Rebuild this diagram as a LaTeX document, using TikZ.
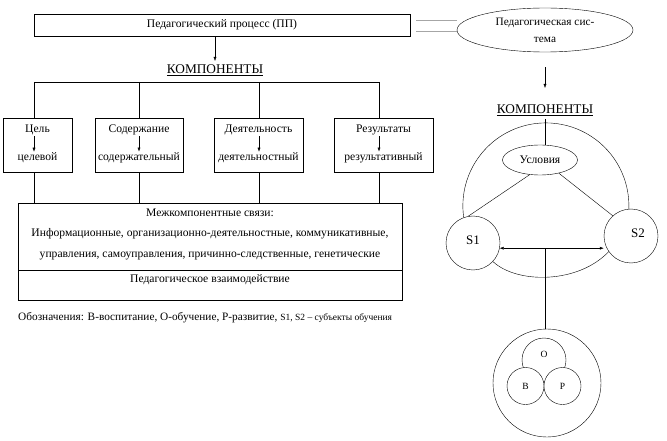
\documentclass[tikz,border=0pt]{standalone}
\usepackage{fontspec}
\setmainfont{Liberation Serif}
\usetikzlibrary{shapes.geometric,arrows.meta}
\begin{document}
\begin{tikzpicture}[x=1pt,y=-1pt,font=\fontsize{11.6}{13}\selectfont,
  box/.style={draw, rectangle, inner sep=0pt},
  ring/.style={draw, circle, inner sep=0pt, fill=white},
  arr/.style={-{Latex[length=4pt,width=3pt]}},
  kmp/.style={font=\fontsize{13.3}{15}\selectfont}]
\useasboundingbox (0,0) rectangle (667,441);
% left part: process
\node[box, minimum width=376pt, minimum height=22pt] (pp) at (222,25) {Педагогический процесс (ПП)};
\node[kmp] (komp) at (215,70) {\underline{КОМПОНЕНТЫ}};
\draw[arr] (pp.south -| komp) -- (komp.north);
\coordinate (bus) at (34,82);
\draw (bus) -- ++(345,0);
\node[box, minimum width=384pt, minimum height=67pt] (mk) at (210,236.5) {};
\node[box, minimum width=384pt, minimum height=30pt, anchor=north] (vz) at (mk.south) {};
\foreach \n/\lx/\cx/\w/\up/\dn in {1/34/37.5/69/Цель/целевой,
    2/139/139/88/Содержание/содержательный,
    3/259/258.5/89/Деятельность/деятельностный,
    4/379/383.5/99/Результаты/результативный}{
  \node[box, minimum width=\w pt, minimum height=54pt] (c\n) at (\cx,145) {};
  \node[inner sep=1pt] (c\n t) at (\cx,130) {\up};
  \node[inner sep=1pt] (c\n b) at (\cx,158) {\dn};
  \coordinate (l\n) at (\lx,82);
  \draw (l\n) -- (l\n |- c\n.north);
  \draw[arr] (l\n |- c\n t.south) -- (l\n |- c\n b.north);
  \draw (l\n |- c\n.south) -- (l\n |- mk.north);
}
\node[align=center, font=\fontsize{11.6}{20.5}\selectfont] (mkt) at (210,234)
  {Межкомпонентные связи:\\Информационные, организационно-деятельностные, коммуникативные,\\управления, самоуправления, причинно-следственные, генетические};
\node (vzt) at (210,280) {Педагогическое взаимодействие};
\node[anchor=west, inner sep=0pt, font=\fontsize{11.3}{13}\selectfont] (leg) at (18,318) {Обозначения: В-воспитание, О-обучение, Р-развитие, {\fontsize{9.5}{10}\selectfont S1, S2 -- субъекты обучения}};
% right part: system
\node[draw, ellipse, minimum width=176pt, minimum height=44pt, inner sep=0pt, align=center,
  font=\fontsize{11.3}{17}\selectfont] (ps) at (545,30) {Педагогическая сис-\\тема};
\coordinate (d1) at ([xshift=6pt,yshift=5pt]pp.east);
\coordinate (d2) at ([xshift=6pt,yshift=-6pt]pp.east);
\draw[gray!70, line width=.8pt] (d1) -- (d1 -| ps.west) (d2) -- (d2 -| ps.west);
\node[kmp] (komp2) at (545,110) {\underline{КОМПОНЕНТЫ}};
\draw[arr] ([yshift=-15pt]ps.south) -- ([yshift=13pt]komp2.north);
\node[draw, ellipse, minimum width=75pt, minimum height=30pt, inner sep=0pt] (usl) at (540,160) {Условия};
\draw (komp2.south) -- (komp2.south |- usl.north);
\node[ring, minimum size=54pt, font=\fontsize{13}{14}\selectfont] (S1) at (473,243) {\raisebox{6pt}{S1}};
\node[ring, minimum size=54pt, font=\fontsize{13}{14}\selectfont] (S2) at (631,236) {\raisebox{6pt}{\hspace{14pt}S2}};
\draw (S1.110) arc[start angle=188, end angle=-2, radius=83pt];
\draw (S1.-43) .. controls (517,284) and (578,284) .. (S2.215);
\draw (usl.235) -- (S1.100);
\draw (usl.-35) -- (S2.132);
\draw[{Latex[length=4pt,width=3pt]}-{Latex[length=4pt,width=3pt]}] (S1.-11) -- (S1.-11 -| S2.west);
\coordinate (m) at (S1.-11 -| komp2.south);
\node[ring, minimum size=108pt] (vro) at (547,383) {};
\draw (m) -- (m |- vro.north);
\node[ring, minimum size=44pt, font=\fontsize{9.5}{10}\selectfont] (O) at (544,360) {\raisebox{12pt}{О}};
\node[ring, minimum size=37pt, font=\fontsize{9.5}{10}\selectfont] (B) at (525.5,386) {В};
\node[ring, minimum size=37pt, font=\fontsize{9.5}{10}\selectfont] (P) at (562.5,386) {Р};
\end{tikzpicture}
\end{document}
